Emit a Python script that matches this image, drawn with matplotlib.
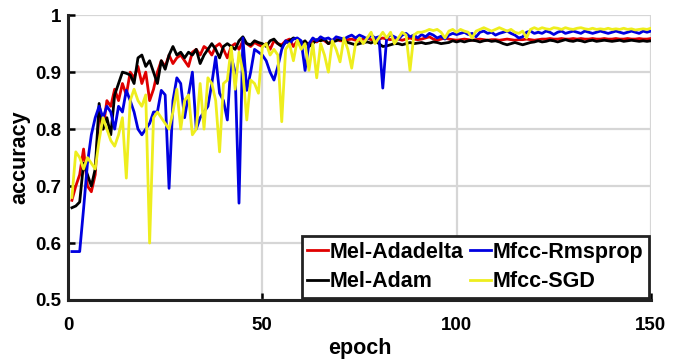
import matplotlib
matplotlib.use("Agg")
import matplotlib.pyplot as plt

plt.rcParams["font.family"] = ["Liberation Sans", "DejaVu Sans"]
plt.rcParams["font.weight"] = "bold"

epochs = list(range(1, 151))

mel_adadelta = [
    .675, .70, .72, .765, .70, .69, .72, .83, .80, .85,
    .84, .87, .85, .88, .86, .90, .89, .91, .88, .90,
    .85, .87, .90, .92, .91, .93, .915, .925, .93, .92,
    .91, .935, .94, .93, .945, .94, .93, .945, .95, .94,
    .925, .945, .95, .94, .955, .95, .945, .952, .948, .945,
    .95, .94, .955, .95, .948, .955, .958, .945, .955, .95,
    .952, .95, .955, .953, .958, .955, .95, .956, .958, .955,
    .955, .957, .958, .956, .955, .958, .96, .957, .955, .958,
    .96, .958, .957, .96, .958, .956, .958, .96, .958, .957,
    .958, .96, .962, .958, .956, .958, .96, .958, .957, .956,
    .957, .958, .957, .956, .957, .958, .957, .956, .957, .957,
    .956, .957, .958, .957, .956, .957, .957, .958, .957, .956,
    .957, .958, .958, .959, .958, .958, .959, .958, .958, .959,
    .958, .959, .958, .958, .959, .958, .958, .959, .958, .958,
    .959, .958, .958, .959, .958, .958, .959, .958, .958, .959,
]

mel_adam = [
    .662, .665, .672, .74, .72, .70, .73, .845, .80, .82,
    .79, .86, .88, .90, .898, .895, .88, .925, .93, .91,
    .92, .90, .88, .92, .905, .93, .945, .93, .935, .925,
    .935, .93, .94, .915, .93, .94, .95, .94, .925, .945,
    .95, .945, .94, .955, .962, .95, .948, .955, .952, .95,
    .945, .955, .958, .95, .945, .952, .955, .96, .958, .95,
    .955, .945, .95, .957, .955, .958, .95, .953, .955, .958,
    .955, .952, .95, .948, .95, .952, .953, .951, .955, .95,
    .945, .946, .948, .95, .95, .948, .95, .952, .95, .951,
    .952, .95, .951, .953, .952, .95, .951, .952, .955, .953,
    .955, .953, .955, .956, .955, .953, .955, .956, .954, .955,
    .953, .95, .948, .95, .952, .95, .948, .95, .952, .953,
    .955, .953, .954, .956, .955, .953, .955, .957, .955, .954,
    .956, .955, .953, .955, .956, .954, .955, .956, .955, .954,
    .955, .956, .954, .955, .956, .955, .954, .955, .954, .955,
]

mfcc_rmsprop = [
    .585, .585, .585, .66, .74, .79, .82, .84, .82, .84,
    .83, .80, .84, .83, .868, .85, .83, .80, .79, .80,
    .81, .83, .83, .868, .86, .696, .85, .89, .88, .82,
    .86, .90, .80, .82, .83, .84, .88, .927, .863, .85,
    .816, .927, .90, .67, .96, .868, .90, .94, .935, .93,
    .92, .90, .886, .91, .94, .955, .95, .958, .96, .955,
    .903, .95, .96, .955, .962, .958, .96, .955, .962, .96,
    .958, .962, .965, .96, .965, .962, .958, .965, .96, .962,
    .872, .96, .965, .962, .958, .965, .968, .962, .965, .96,
    .966, .962, .968, .965, .96, .963, .958, .965, .968, .966,
    .968, .97, .966, .968, .962, .97, .972, .968, .97, .965,
    .968, .97, .972, .968, .965, .96, .962, .97, .972, .968,
    .97, .968, .972, .97, .966, .97, .972, .968, .97, .972,
    .97, .968, .972, .97, .968, .97, .972, .97, .968, .97,
    .972, .97, .968, .97, .972, .97, .968, .972, .97, .972,
]

mfcc_sgd = [
    .68, .76, .75, .73, .75, .74, .73, .78, .82, .80,
    .78, .77, .79, .82, .714, .85, .87, .85, .84, .86,
    .60, .82, .83, .82, .81, .80, .83, .87, .80, .85,
    .86, .79, .80, .88, .80, .89, .88, .85, .76, .88,
    .886, .944, .87, .935, .90, .816, .886, .88, .863, .944,
    .95, .93, .94, .93, .813, .94, .95, .92, .956, .94,
    .95, .903, .95, .89, .95, .93, .90, .955, .94, .918,
    .96, .94, .907, .95, .96, .95, .96, .97, .95, .96,
    .97, .96, .97, .95, .96, .97, .965, .903, .965, .97,
    .97, .972, .975, .973, .975, .97, .96, .972, .975, .97,
    .975, .972, .97, .96, .972, .975, .978, .975, .972, .975,
    .978, .975, .972, .975, .97, .968, .972, .96, .975, .978,
    .975, .978, .976, .975, .978, .977, .975, .978, .976, .975,
    .977, .978, .976, .975, .977, .975, .976, .975, .977, .975,
    .976, .975, .977, .975, .976, .974, .975, .976, .975, .977,
]

fig = plt.figure(figsize=(6.83, 3.61), dpi=100)
ax = fig.add_axes([0.0996, 0.169, 0.8534, 0.789])

lw = 2.0
ax.plot(epochs, mel_adadelta, color="#e00000", lw=lw, label="Mel-Adadelta")
ax.plot(epochs, mel_adam, color="black", lw=lw, label="Mel-Adam")
ax.plot(epochs, mfcc_rmsprop, color="#0000e0", lw=lw, label="Mfcc-Rmsprop")
ax.plot(epochs, mfcc_sgd, color="#eeee1e", lw=lw, label="Mfcc-SGD")

ax.set_xlim(0, 150)
ax.set_ylim(0.5, 1.0)
ax.set_xticks([0, 50, 100, 150])
ax.set_yticks([0.5, 0.6, 0.7, 0.8, 0.9, 1.0])
ax.set_yticklabels(["0.5", "0.6", "0.7", "0.8", "0.9", "1"])
ax.grid(True, color="#d6d6d6", lw=1.6)
ax.set_axisbelow(True)

for s in ("top", "right"):
    ax.spines[s].set_visible(False)
for s in ("left", "bottom"):
    ax.spines[s].set_linewidth(2.2)
    ax.spines[s].set_color("#222222")
ax.tick_params(axis="both", direction="in", length=5, width=1.8, labelsize=13.5)
ax.tick_params(axis="x", pad=12)
ax.tick_params(axis="y", pad=5)

ax.set_xlabel("epoch", fontsize=15.5, fontweight="bold", labelpad=3)
ax.set_ylabel("accuracy", fontsize=15.5, fontweight="bold", labelpad=3)

leg = ax.legend(loc="lower right", ncol=2, fontsize=15.5, handlelength=0.95,
                handletextpad=0.1, columnspacing=0.3, borderpad=0.25,
                labelspacing=0.4, borderaxespad=0.1, fancybox=False,
                framealpha=1, edgecolor="#222222")
leg.get_frame().set_linewidth(2.0)
for t in leg.get_texts():
    t.set_fontweight("bold")

fig.savefig("out.png", dpi=100)
